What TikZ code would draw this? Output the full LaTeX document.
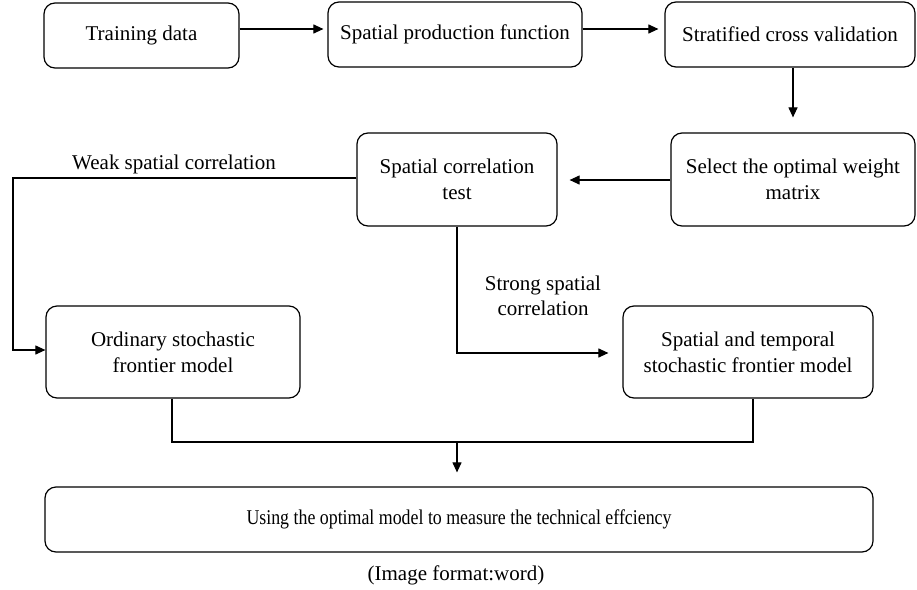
\documentclass[tikz,border=0pt]{standalone}
\usepackage{fontspec}
\setmainfont{Liberation Serif}
\usetikzlibrary{arrows.meta}
\begin{document}
\begin{tikzpicture}[x=1pt,y=-1pt,
  box/.style={draw, line width=1.2pt, rounded corners=11pt, inner sep=0pt,
    align=center, font=\fontsize{21}{26}\selectfont},
  link/.style={line width=1.1pt, -{Triangle[length=10pt,width=9pt]}},
  plain/.style={line width=1.1pt},
  lbl/.style={align=center, font=\fontsize{21}{25}\selectfont}]
\useasboundingbox (0,0) rectangle (917,589);

% top row
\node[box, minimum width=195pt, minimum height=65pt] (train) at (141.5,35.5) {Training data};
\node[box, minimum width=254pt, minimum height=65pt] (spf) at (455,34.5) {Spatial production function};
\node[box, minimum width=250pt, minimum height=65pt] (scv) at (790,34.5) {Stratified cross validation};

% middle row
\node[box, minimum width=200pt, minimum height=93pt] (sct) at (457,179.5) {Spatial correlation\\test};
\node[box, minimum width=244pt, minimum height=93pt] (sowm) at (793,179.5) {Select the optimal weight\\matrix};

% model row
\node[box, minimum width=254pt, minimum height=92pt] (ord) at (173,352) {Ordinary stochastic\\frontier model};
\node[box, minimum width=250pt, minimum height=92pt] (st) at (748,352) {Spatial and temporal\\stochastic frontier model};

% result
\node[box, minimum width=828pt, minimum height=65pt] (res) at (459,519.5)
  {\scalebox{0.85}[1]{Using the optimal model to measure the technical effciency}};
\node[lbl] (cap) at (456,575) {(Image format:word)};

% flow
\draw[link, shorten >=4pt] (train.east |- 0,29) -- (spf.west |- 0,29);
\draw[link, shorten >=6pt] (spf.east |- 0,29) -- (scv.west |- 0,29);
\draw[link, shorten >=15pt] (scv.south -| 793,0) -- (sowm.north);
\draw[link, shorten >=12pt] (sowm.west |- 0,180) -- (sct.east |- 0,180);

% branches from the test
\coordinate (wk1) at (13,178);
\coordinate (wk2) at (13,350);
\draw[link] (sct.west |- 0,178) -- (wk1) -- (wk2) -- (ord.west |- wk2);
\node[lbl] (weak) at (174,164) {Weak spatial correlation};

\coordinate (sg1) at (457,353);
\draw[link, shorten >=14pt] (sct.south) -- (sg1) -- (st.west |- sg1);
\node[lbl] (strong) at (543,296) {Strong spatial\\correlation};

% merge into the result
\coordinate (m1) at (172,442);
\coordinate (m2) at (753,442);
\coordinate (m3) at (457,442);
\draw[plain] (ord.south -| m1) -- (m1) -- (m2) -- (st.south -| m2);
\draw[link, shorten >=14pt] (m3) -- (res.north -| m3);
\end{tikzpicture}
\end{document}
